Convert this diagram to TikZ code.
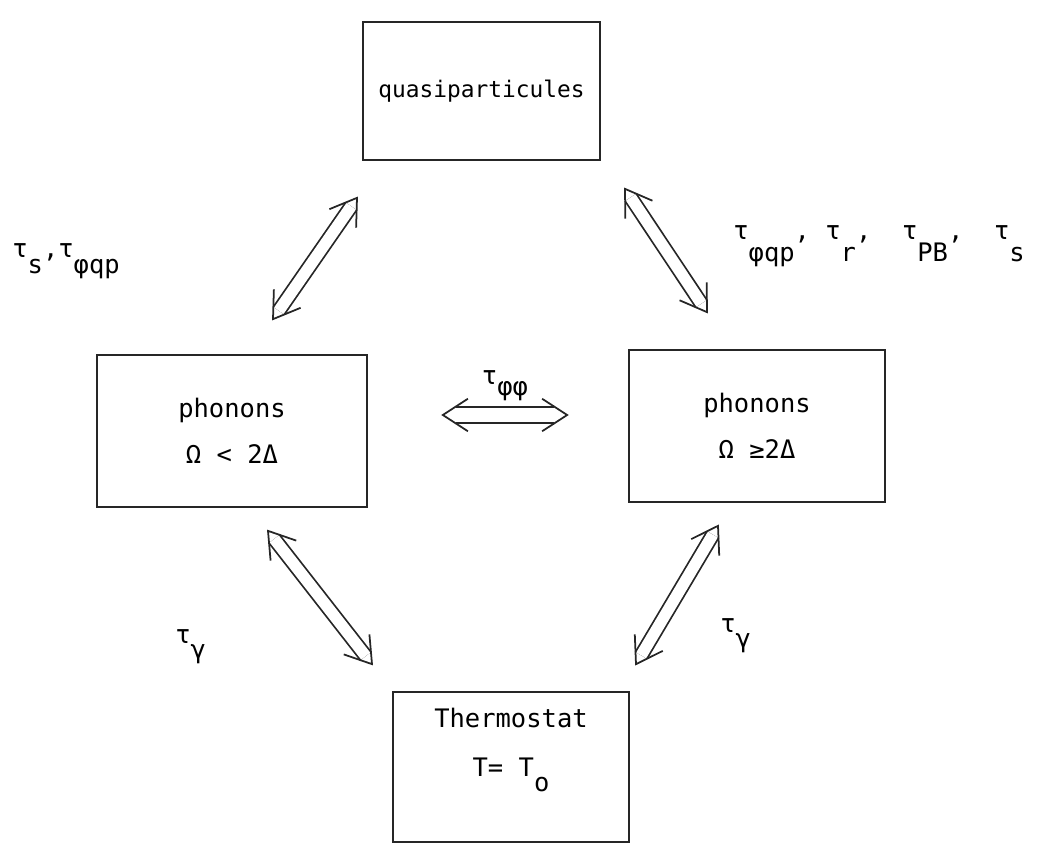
\documentclass[tikz,border=0pt]{standalone}
\usepackage{fontspec}
\setmainfont{DejaVu Sans Mono}
\usetikzlibrary{arrows.meta,calc}
\newcommand{\tsub}[2][0.6em]{\raisebox{-#1}{#2}}
% double line with open V heads at both ends
\newcommand{\twoway}[3][]{%
  \draw[dbl,#1] (#2) -- (#3);
  \draw[vtip] ($(#2)!17pt!33:(#3)$) -- (#2) -- ($(#2)!17pt!-33:(#3)$);
  \draw[vtip] ($(#3)!17pt!33:(#2)$) -- (#3) -- ($(#3)!17pt!-33:(#2)$);}

\begin{document}
\begin{tikzpicture}[x=0.02cm, y=-0.02cm,
  box/.style={rectangle, draw=black!85, line width=1pt, align=center,
    inner sep=0pt, font=\fontsize{14.5}{17}\selectfont},
  lbl/.style={inner sep=0pt, font=\fontsize{14.5}{17}\selectfont},
  dbl/.style={double, double distance=6.5pt, line width=1pt, draw=black!85,
    shorten <=5.8pt, shorten >=5.8pt},
  vtip/.style={line width=1pt, draw=black!85, line join=miter}]
  \useasboundingbox (0,0) rectangle (1045,844);

  % boxes
  \node[box, minimum width=4.74cm, minimum height=2.76cm, font=\fontsize{13}{16}\selectfont]
    (quasi) at (481.5,91) {quasiparticules};
  \node[box, minimum width=5.4cm, minimum height=3.04cm] (phlow) at (232,431)
    {phonons\\[9pt]Ω < 2Δ};
  \node[box, minimum width=5.12cm, minimum height=3.04cm] (phhigh) at (757,426)
    {phonons\\[9pt]Ω ≥2Δ};
  \node[box, minimum width=4.72cm, minimum height=3.0cm] (thermo) at (511,767)
    {Thermostat\\[11pt]T= T\tsub{o}\\[11pt]\mbox{}};

  % arrow ends
  \coordinate (qlow)  at ([shift={(41,-35)}]phlow.north);
  \coordinate (qtop)  at ([shift={(-124.5,37)}]quasi.south);
  \coordinate (qtop2) at ([shift={(143.5,28)}]quasi.south);
  \coordinate (qhigh) at ([shift={(-50,-37)}]phhigh.north);
  \coordinate (mlow)  at ([shift={(75,-16)}]phlow.east);
  \coordinate (mhigh) at ([shift={(-61,-11)}]phhigh.west);
  \coordinate (tlow)  at ([shift={(36,23)}]phlow.south);
  \coordinate (ttop)  at ([shift={(-139,-27)}]thermo.north);
  \coordinate (thigh) at ([shift={(-39,23)}]phhigh.south);
  \coordinate (ttop2) at ([shift={(125,-27)}]thermo.north);

  % exchanges
  \twoway{qlow}{qtop}
  \twoway{qtop2}{qhigh}
  \twoway[double distance=8.5pt, shorten <=7.5pt, shorten >=7.5pt]{mlow}{mhigh}
  \twoway{tlow}{ttop}
  \twoway{thigh}{ttop2}

  % times
  \node[lbl, anchor=base west] (tqp) at (12,258) {τ\tsub{s},τ\tsub{φqp}};
  \node[lbl, anchor=base west] (tph) at (733,240)
    {τ\tsub[0.85em]{φqp}, τ\tsub[0.85em]{r},\ \ τ\tsub[0.85em]{PB},\ \ τ\tsub[0.85em]{s}};
  \node[lbl, anchor=base] (tpp) at (505,385) {τ\tsub[0.4em]{φφ}};
  \node[lbl, anchor=base west] (tgl) at (175,643) {τ\tsub{γ}};
  \node[lbl, anchor=base west] (tgr) at (720,632) {τ\tsub{γ}};
\end{tikzpicture}
\end{document}
